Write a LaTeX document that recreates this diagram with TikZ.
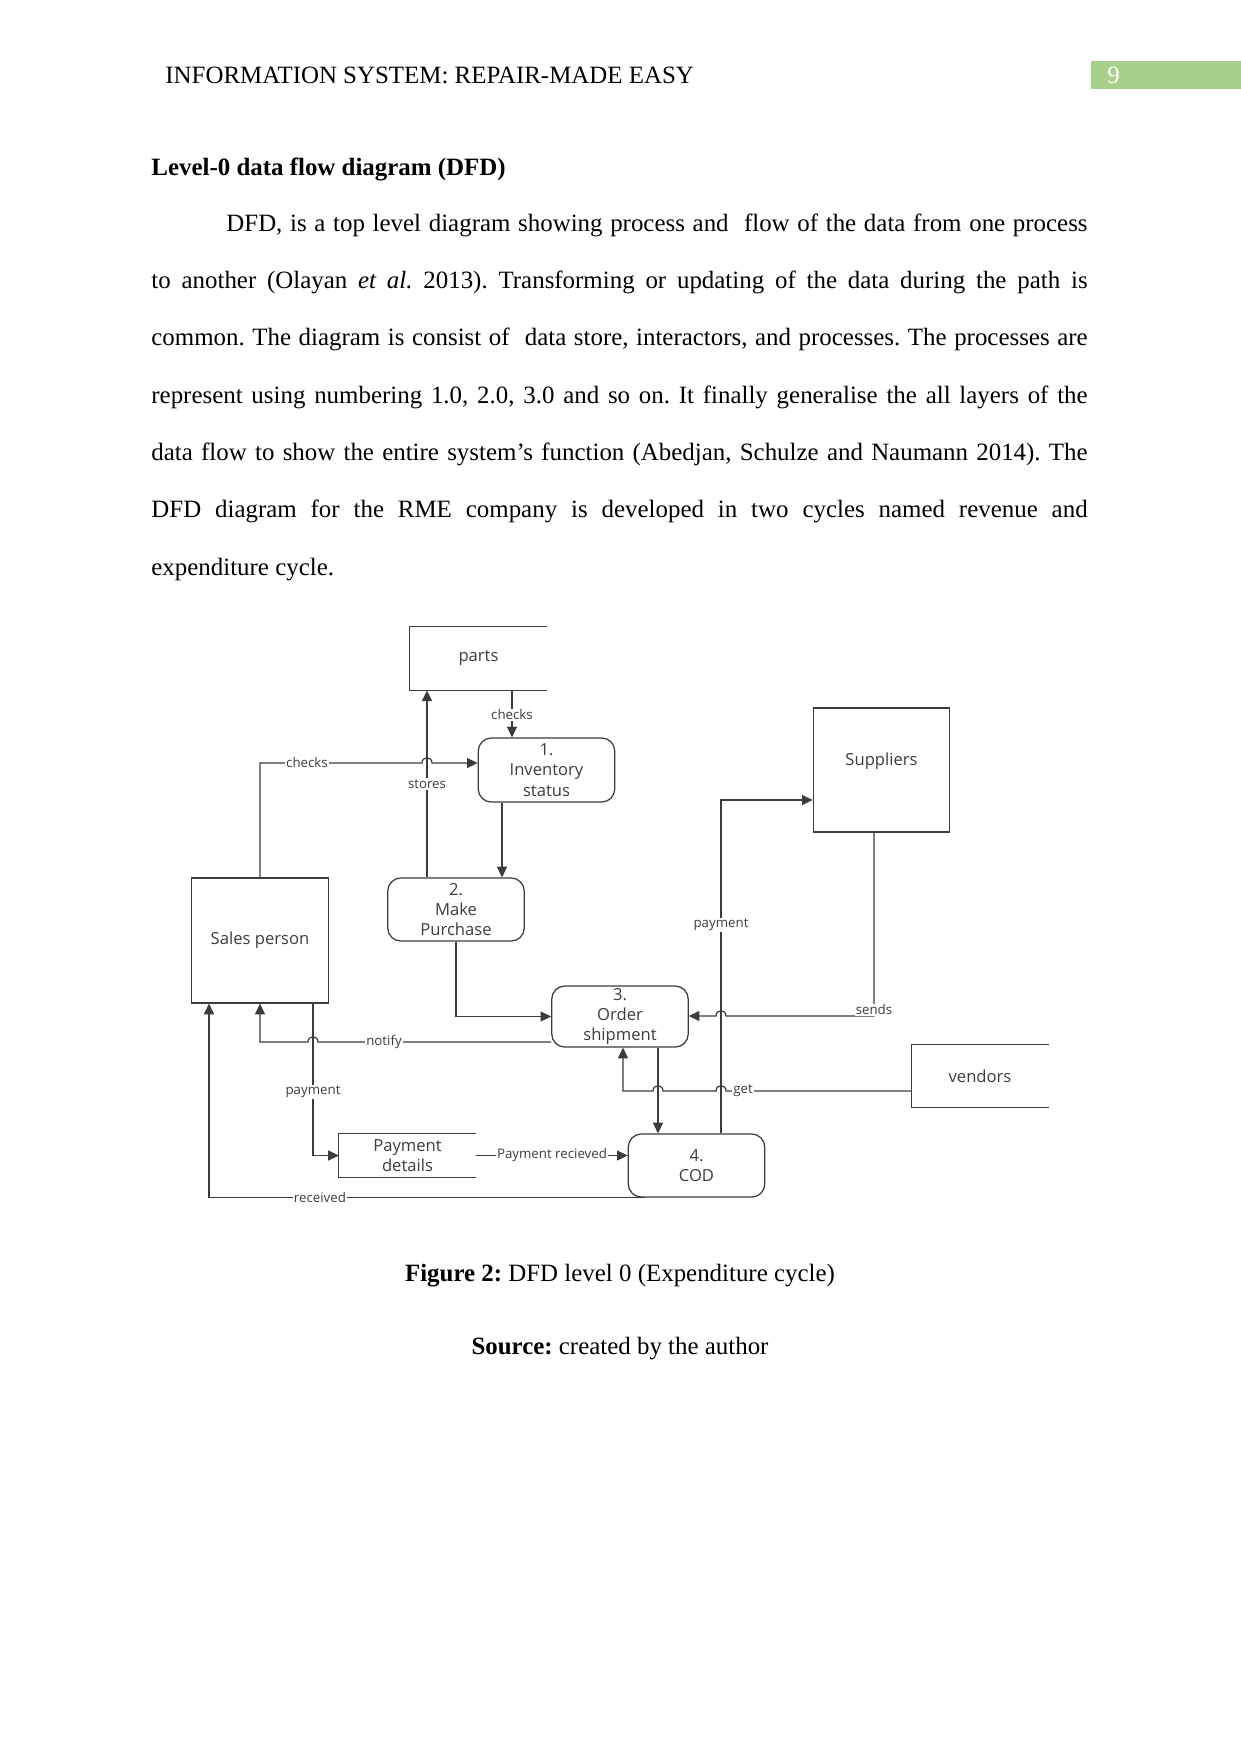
\documentclass[tikz,border=0pt]{standalone}
\usepackage{fontspec}
\setmainfont{Liberation Serif}
\newfontfamily\dfdfont{Open Sans}
\usepackage{tikz}
\usetikzlibrary{arrows.meta}
\frenchspacing

\definecolor{dfdgray}{HTML}{3C3C3C}
\definecolor{pagegreen}{HTML}{A8D08D}

\begin{document}
\begin{tikzpicture}[x=0.1693mm, y=-0.1693mm,
  box/.style={draw=dfdgray, line width=0.6pt},
  entity/.style={box, minimum width=23.1mm, inner sep=0pt, text=dfdgray, font=\dfdfont\fontsize{8}{9.8}\selectfont},
  process/.style={box, rounded corners=2.2mm, minimum width=23.1mm, align=center, inner sep=0pt, text=dfdgray, font=\dfdfont\fontsize{8}{9.8}\selectfont},
  store/.style={minimum width=23.1mm, align=center, inner sep=0pt, text=dfdgray, font=\dfdfont\fontsize{8}{9.8}\selectfont},
  flow/.style={box, -{Triangle[length=1.8mm, width=1.7mm]}},
  lbl/.style={fill=white, inner sep=0.6pt, text=dfdgray, font=\dfdfont\fontsize{6.4}{7}\selectfont},
  body/.style={anchor=base west, inner sep=0pt, font=\fontsize{12}{14}\selectfont}]

  \useasboundingbox (0,0) rectangle (1241,1754);
  \fill[white] (0,0) rectangle (1241,1754);

  \node[body] (header) at (165,83) {INFORMATION SYSTEM: REPAIR-MADE EASY};
  \fill[pagegreen] (1091,61) rectangle (1241,89);
  \node[body, text=white] (pagenum) at (1107,83) {9};

  \node[body, font=\fontsize{12}{14}\selectfont\bfseries] (heading) at (151,175.7) {Level-0 data flow diagram (DFD)};

  \node[body] (line1) at (226,231) {\makebox[145.8mm][s]{DFD, is a top level diagram showing process and\ \ flow of the data from one process}};
  \node[body] (line2) at (151,288.3) {\makebox[158.5mm][s]{to another (Olayan \textit{et al.} 2013). Transforming or updating of the data during the path is}};
  \node[body] (line3) at (151,345.7) {\makebox[158.5mm][s]{common. The diagram is consist of\ \ data store, interactors, and processes. The processes are}};
  \node[body] (line4) at (151,403) {\makebox[158.5mm][s]{represent using numbering 1.0, 2.0, 3.0 and so on. It finally generalise the all layers of the}};
  \node[body] (line5) at (151,460.3) {\makebox[158.5mm][s]{data flow to show the entire system’s function (Abedjan, Schulze and Naumann 2014). The}};
  \node[body] (line6) at (151,517.7) {\makebox[158.5mm][s]{DFD diagram for the RME company is developed in two cycles named revenue and}};
  \node[body] (line7) at (151,575) {expenditure cycle.};

  \node[store, minimum height=10.67mm] (parts) at (478.5,658.5) {parts};
  \node[store, minimum height=7.28mm] (paydet) at (407.5,1155.5) {Payment\\details};
  \node[store, minimum height=10.5mm] (vendors) at (980,1076) {vendors};
  \draw[box] (parts.north east) -- (parts.north west) -- (parts.south west) -- (parts.south east);
  \draw[box] (paydet.north east) -- (paydet.north west) -- (paydet.south west) -- (paydet.south east);
  \draw[box] (vendors.north east) -- (vendors.north west) -- (vendors.south west) -- (vendors.south east);

  \node[entity, minimum height=21.0mm] (suppliers) at (881.5,770) {\raisebox{0.7mm}[0pt][0pt]{Suppliers}};
  \node[entity, minimum height=21.16mm] (sales) at (260,940.5) {Sales person};

  \node[process, minimum height=10.84mm] (inv) at (546.5,770) {1.\\Inventory\\status};
  \node[process, minimum height=10.67mm] (purchase) at (456,909.5) {2.\\Make\\Purchase};
  \node[process, minimum height=10.33mm] (order) at (620,1016.5) {3.\\Order\\shipment};
  \node[process, minimum height=10.67mm] (cod) at (696.5,1165.5) {4.\\COD};

  \draw[flow] (512,0 |- parts.south) -- (512,0 |- inv.north);
  \draw[flow] (sales.north) |- (422,763) .. controls +(0,-7) and +(0,-7) .. (432,763) -- (inv.west |- 0,763);
  \draw[flow] (427,0 |- purchase.north) -- (427,0 |- parts.south);
  \draw[flow] (502,0 |- inv.south) -- (502,0 |- purchase.north);
  \draw[flow] (purchase.south) |- (order.west);
  \draw[flow] (order.west |- 0,1042) -- (318,1042) .. controls +(0,-7) and +(0,-7) .. (308,1042) -| (sales.south);
  \draw[flow] (313,0 |- sales.south) |- (paydet.west);
  \draw[flow] (paydet.east) -- (cod.west |- paydet.east);
  \draw[flow] (645,0 |- cod.south) -| (209,0 |- sales.south);
  \draw[flow] (658,0 |- order.south) -- (658,0 |- cod.north);
  \draw[flow] (721,0 |- cod.north) |- (suppliers.west |- 0,800);
  \draw[flow] (874,0 |- suppliers.south) |- (726,1016) .. controls +(0,-7) and +(0,-7) .. (716,1016) -- (order.east |- 0,1016);
  \draw[flow] (vendors.west |- 0,1091) -- (726,1091) .. controls +(0,-7) and +(0,-7) .. (716,1091) -- (663,1091) .. controls +(0,-7) and +(0,-7) .. (653,1091) -| (623,0 |- order.south);

  \node[lbl] (chk1) at (512,715) {checks};
  \node[lbl] (chk2) at (307,763) {checks};
  \node[lbl] (stores) at (427,784) {stores};
  \node[lbl] (notify) at (384,1042) {notify};
  \node[lbl] (pay1) at (313,1092) {payment};
  \node[lbl] (payrec) at (552,1155.5) {Payment recieved};
  \node[lbl] (received) at (320,1197) {received};
  \node[lbl] (pay2) at (721,925) {payment};
  \node[lbl] (sends) at (874,1010) {sends};
  \node[lbl] (get) at (743,1091) {get};

  \node[anchor=base, inner sep=0pt, font=\fontsize{12}{14}\selectfont] (caption) at (620,1281) {\textbf{Figure 2:} DFD level 0 (Expenditure cycle)};
  \node[anchor=base, inner sep=0pt, font=\fontsize{12}{14}\selectfont] (source) at (620,1354) {\textbf{Source:} created by the author};
\end{tikzpicture}
\end{document}
